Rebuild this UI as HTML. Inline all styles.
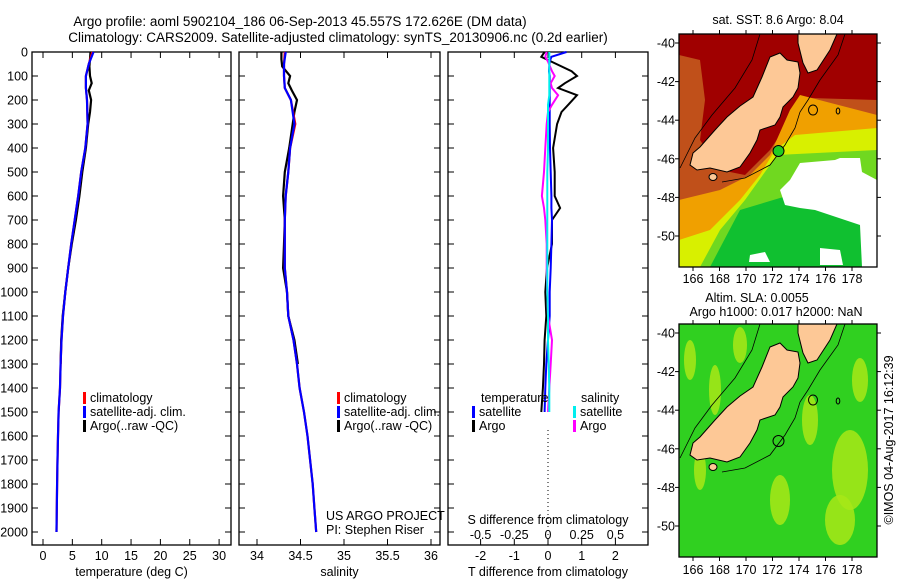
<!DOCTYPE html>
<html><head><meta charset="utf-8"><style>
html,body{margin:0;padding:0;background:#fff;}
svg{display:block;font-family:"Liberation Sans",sans-serif;}
text{font-size:12.5px;fill:#000;}
</style></head><body>
<svg id="fig" width="900" height="580" viewBox="0 0 900 580" xmlns="http://www.w3.org/2000/svg">
<text x="300" y="26" text-anchor="middle" style="font-size:13.5px">Argo profile: aoml 5902104_186 06-Sep-2013 45.557S 172.626E (DM data)</text>
<text x="338" y="42" text-anchor="middle" style="font-size:13.5px">Climatology: CARS2009. Satellite-adjusted climatology: synTS_20130906.nc (0.2d earlier)</text>
<g id="p1"></g>
<g id="p2"></g>
<g id="p3"></g>
<g id="m1"></g>
<g id="m2"></g>
<text transform="translate(893,440) rotate(-90)" text-anchor="middle">©IMOS 04-Aug-2017 16:12:39</text>
</svg>
<script>
// ---- data ----
const depths = [0,50,100,150,200,300,400,500,600,700,800,900,1000,1100,1200,1300,1400,1500,1600,1700,1800,1900,2000];
const tempClim = [8.4,7.8,7.3,7.3,7.5,7.6,7.2,6.5,6.0,5.4,4.8,4.3,3.8,3.4,3.15,3.0,2.9,2.65,2.55,2.47,2.4,2.35,2.3];
const tempSat  = [8.6,7.8,7.3,7.3,7.5,7.6,7.2,6.5,6.0,5.4,4.8,4.3,3.8,3.4,3.15,3.0,2.9,2.65,2.55,2.47,2.4,2.35,2.3];
const argoDepths = [0,30,60,100,130,160,200,250,300,400,500,600,700,800,900,1000,1100,1200,1300];
const tempArgo = [8.1,8.0,7.9,8.0,8.3,7.8,8.2,8.0,7.7,7.3,6.7,6.2,5.6,4.9,4.3,3.8,3.35,3.1,3.0];
const salClim = [34.32,34.31,34.31,34.32,34.39,34.44,34.38,34.36,34.33,34.32,34.32,34.32,34.345,34.36,34.42,34.46,34.49,34.54,34.58,34.61,34.64,34.66,34.68];
const salSat  = [34.33,34.31,34.31,34.32,34.39,34.43,34.38,34.36,34.33,34.32,34.32,34.32,34.345,34.36,34.42,34.46,34.49,34.54,34.58,34.61,34.64,34.66,34.68];
const salArgo = [34.28,34.28,34.29,34.38,34.36,34.40,34.46,34.43,34.41,34.37,34.32,34.30,34.32,34.31,34.30,34.345,34.36,34.43,34.47];
const dtDepths = [0,20,40,80,100,130,150,180,220,250,300,400,500,600,650,700,800,900,1000,1100,1200,1300,1400,1500];
const dtArgo = [-0.1,-0.2,0.1,0.7,0.86,0.5,0.3,0.86,0.6,0.4,0.27,0.15,0.2,0.2,0.36,0.12,0.12,-0.03,-0.08,-0.05,-0.1,-0.12,-0.15,-0.2];
const dtSat  = [0.55,0.1,0.05,0.03,0.05,0.05,0.05,0.05,0.05,0.05,0.05,0.06,0.08,0.1,0.1,0.12,0.1,0.08,0.05,0.05,0.0,-0.05,-0.08,-0.1];
const dsArgo = [-0.01,-0.02,0.0,0.03,0.05,0.02,0.03,0.075,0.03,0.0,-0.01,-0.02,-0.03,-0.045,-0.03,-0.02,-0.01,-0.01,-0.005,0.0,0.03,0.02,0.01,0.0];
const dsSat  = [0.01,0.01,0.01,0.01,0.01,0.01,0.01,0.01,0.0,0.0,0.0,0.0,-0.005,-0.005,-0.005,-0.005,-0.005,-0.005,-0.005,0.0,0.0,0.005,0.01,0.01];
const depthTicks = [0,100,200,300,400,500,600,700,800,900,1000,1100,1200,1300,1400,1500,1600,1700,1800,1900,2000];
const tempTicks = [0,5,10,15,20,25,30];
const salTicks = [34,34.5,35,35.5,36];
const dtTicks = [-2,-1,0,1,2];
const dsTicks = [-0.5,-0.25,0,0.25,0.5];
const dsTickLabels = ["-0.5","-0.25","0","0.25","0.5"];
const lonTicks = [166,168,170,172,174,176,178];
const latTicks = [-40,-42,-44,-46,-48,-50];

const NS="http://www.w3.org/2000/svg";
function mk(parent,tag,attrs,txt){const e=document.createElementNS(NS,tag);for(const k in attrs)e.setAttribute(k,attrs[k]);if(txt!==undefined)e.textContent=txt;parent.appendChild(e);return e;}
const top0=52, bot=545;
const yD = d => 52 + d*0.24;

function stepPath(xs,ds,xf){
  let s='';
  for(let i=0;i<xs.length;i++){const x=xf(xs[i]),y=yD(ds[i]);s+=(i?'L':'M')+x.toFixed(1)+' '+y.toFixed(1);}
  return s;
}
function panel(g,x0,x1,xf,ticks,labels,label,showDepth){
  const r=mk(g,'rect',{x:x0,y:top0,width:x1-x0,height:bot-top0,fill:'#fff',stroke:'#000','stroke-width':1.3});
  
  
  depthTicks.forEach(d=>{
    const y=yD(d);
    const t1=mk(g,'line',{x1:x0,x2:x0+6,y1:y,y2:y,stroke:'#000'});
    
    
    mk(g,'line',{x1:x1-6,x2:x1,y1:y,y2:y,stroke:'#000'});
    if(showDepth){const t=mk(g,'text',{x:x0-4,y:y+4.5,'text-anchor':'end'},String(d));
      
      }
  });
  if(ticks){ticks.forEach((v,i)=>{const x=xf(v);
    mk(g,'line',{x1:x,x2:x,y1:top0,y2:top0+6,stroke:'#000'});
    mk(g,'line',{x1:x,x2:x,y1:bot-6,y2:bot,stroke:'#000'});
    const t=mk(g,'text',{x:x,y:bot+15,'text-anchor':'middle'},labels?labels[i]:String(v));
    
    });}
  if(label){const t=mk(g,'text',{x:(x0+x1)/2,y:bot+31,'text-anchor':'middle'},label);
    
    }
}
function line(g,d,col,w,name){const p=mk(g,'path',{d:d,fill:'none',stroke:col,'stroke-width':w});
  
  return p;}
function legend(g,x,y,items){items.forEach((it,i)=>{
  const m=mk(g,'rect',{x:x,y:y+i*14-10,width:3,height:12,fill:it[1]});
  
  
  const t=mk(g,'text',{x:x+7,y:y+i*14},it[0]);
  
  });}

// Panel 1 temperature
const p1=document.getElementById('p1');
const xT=v=>43+v*5.87;
panel(p1,32,231,xT,tempTicks,null,'temperature (deg C)',true);
line(p1,stepPath(tempArgo,argoDepths,xT),'#000',2.2,'argo-temperature-line');
line(p1,stepPath(tempClim,depths,xT),'#f00',2.2,'climatology-temperature-line');
line(p1,stepPath(tempSat,depths,xT),'#00f',2.2,'satellite-temperature-line');
legend(p1,83,402,[['climatology','#f00'],['satellite-adj. clim.','#00f'],['Argo(..raw -QC)','#000']]);

// Panel 2 salinity
const p2=document.getElementById('p2');
const xS=v=>257+(v-34)*87;
panel(p2,239,440,xS,salTicks,null,'salinity',false);
line(p2,stepPath(salArgo,argoDepths,xS),'#000',2.2,'argo-salinity-line');
line(p2,stepPath(salClim,depths,xS),'#f00',2.2,'climatology-salinity-line');
line(p2,stepPath(salSat,depths,xS),'#00f',2.2,'satellite-salinity-line');
legend(p2,337,402,[['climatology','#f00'],['satellite-adj. clim.','#00f'],['Argo(..raw -QC)','#000']]);
const c1=mk(p2,'text',{x:326,y:520},'US ARGO PROJECT');


const c2=mk(p2,'text',{x:326,y:534},'PI: Stephen Riser');



// Panel 3 differences
const p3=document.getElementById('p3');
const xDT=v=>548+v*33.7;
const xDS=v=>548+v*134.8;
panel(p3,448,648,xDT,dtTicks,null,'T difference from climatology',false);
dsTicks.forEach((v,i)=>{const t=mk(p3,'text',{x:xDS(v),y:539,'text-anchor':'middle'},dsTickLabels[i]);
  
  });
const st=mk(p3,'text',{x:548,y:524,'text-anchor':'middle'},'S difference from climatology');


const zl=mk(p3,'line',{x1:548,x2:548,y1:430,y2:545,stroke:'#000','stroke-dasharray':'1 3'});


line(p3,stepPath(dtArgo,dtDepths,xDT),'#000',2,'argo-t-diff-line');
line(p3,stepPath(dtSat,dtDepths,xDT),'#00f',2,'satellite-t-diff-line');
line(p3,stepPath(dsArgo,dtDepths,xDS),'#f0f',2,'argo-s-diff-line');
line(p3,stepPath(dsSat,dtDepths,xDS),'#0ee',2,'satellite-s-diff-line');
const lt=mk(p3,'text',{x:481,y:402},'temperature');


const ls=mk(p3,'text',{x:581,y:402},'salinity');


legend(p3,472,416,[['satellite','#00f'],['Argo','#000']]);
legend(p3,573,416,[['satellite','#0ee'],['Argo','#f0f']]);

// Maps
function shape(g,tag,attrs,name){const e=mk(g,tag,attrs);
  
  return e;}
function land(g,dy){
  const si="770,57 780,53 787,60 798,62 800,73 798,88 793,97 783,107 780,117 775,125 760,130 757,140 750,153 740,167 727,172 710,168 697,170 690,165 693,153 700,147 715,130 727,117 740,106 753,97 762,77";
  const ni="798,34 837,34 830,50 817,70 808,73 803,63 798,43";
  const tr=`translate(0,${dy})`;
  shape(g,'polyline',{points:"760,34 752,60 735,88 712,115 695,138 684,160 680,168",fill:'none',stroke:'#000','stroke-width':0.8,transform:tr},'contour-west');
  shape(g,'polyline',{points:"845,34 838,55 820,80 808,100 800,112 795,128 785,145 770,165 745,178 722,182",fill:'none',stroke:'#000','stroke-width':0.8,transform:tr},'contour-east');
  shape(g,'polygon',{points:si,fill:'#fdc896',stroke:'#000','stroke-width':1,transform:tr},'south-island');
  shape(g,'polygon',{points:ni,fill:'#fdc896',stroke:'#000','stroke-width':1,transform:tr},'north-island');
  shape(g,'ellipse',{cx:713,cy:177+dy,rx:4,ry:3.5,fill:'#fdc896',stroke:'#000'},'stewart-island');
  shape(g,'ellipse',{cx:813,cy:110+dy,rx:4.5,ry:5,fill:'none',stroke:'#000'},'seamount-contour');
  shape(g,'ellipse',{cx:838,cy:111+dy,rx:1.8,ry:3,fill:'none',stroke:'#000'},'seamount-contour-small');
  shape(g,'circle',{cx:778.5,cy:151+dy,r:5.5,fill:dy?'none':'#2c2',stroke:'#000'},'argo-float-location');
}
function axes(g,x0,y0,x1,y1,latRef,labY){
  shape(g,'rect',{x:x0,y:y0,width:x1-x0,height:y1-y0,fill:'none',stroke:'#000','stroke-width':1.3},'map-frame');
  lonTicks.forEach(v=>{const x=693+(v-166)*13.25;
    mk(g,'line',{x1:x,x2:x,y1:y0-4,y2:y0,stroke:'#000'});mk(g,'line',{x1:x,x2:x,y1:y1,y2:y1+4,stroke:'#000'});
    const t=mk(g,'text',{x:x,y:labY,'text-anchor':'middle'},String(v));
    
    });
  latTicks.forEach(v=>{const y=latRef+(-40-v)*19.3;
    mk(g,'line',{x1:x0-4,x2:x0,y1:y,y2:y,stroke:'#000'});mk(g,'line',{x1:x1,x2:x1+4,y1:y,y2:y,stroke:'#000'});
    const t=mk(g,'text',{x:x0-4,y:y+4.5,'text-anchor':'end'},String(v));
    
    });
}
// SST map
const m1=document.getElementById('m1');
const t1=mk(m1,'text',{x:778,y:24,'text-anchor':'middle'},'sat. SST: 8.6 Argo: 8.04');


shape(m1,'rect',{x:679,y:34,width:198,height:233,fill:'#a00000'},'sst-background');
shape(m1,'polygon',{points:"679,55 700,60 705,100 700,140 720,170 745,175 770,150 790,120 810,98 877,100 877,267 679,267",fill:'#c0501a'},'warm-band');
shape(m1,'polygon',{points:"790,110 800,95 877,115 877,267 679,267 679,200 720,190 750,175 770,155",fill:'#f0a000'},'orange-band');
shape(m1,'polygon',{points:"775,150 795,135 877,128 877,267 679,267 679,240 710,230 740,200 760,175",fill:'#d8f000'},'yellow-band');
shape(m1,'polygon',{points:"777,155 877,150 877,267 700,267 720,230 745,200",fill:'#70d820'},'green-region');
shape(m1,'polygon',{points:"740,210 790,195 877,200 877,267 710,267",fill:'#10c030'},'deep-green-region');
shape(m1,'polygon',{points:"800,163 835,160 840,158 860,158 862,172 877,180 877,267 862,267 860,225 845,220 830,215 815,210 800,208 785,205 780,190 790,180",fill:'#fff'},'missing-data');
shape(m1,'polygon',{points:"750,255 765,252 770,262 749,262",fill:'#fff'},'missing-data-2');
shape(m1,'polygon',{points:"820,248 840,250 843,265 820,265",fill:'#fff'},'missing-data-3');
land(m1,0);
axes(m1,679,34,877,267,43,283);
// SLA map
const m2=document.getElementById('m2');
const t2=mk(m2,'text',{x:757,y:302,'text-anchor':'middle'},'Altim. SLA: 0.0055');


const t3=mk(m2,'text',{x:776,y:316,'text-anchor':'middle'},'Argo h1000: 0.017 h2000: NaN');


shape(m2,'rect',{x:679,y:324,width:198,height:233,fill:'#30d020'},'sla-background');
[[690,360,6,20],[715,390,6,25],[740,345,7,18],[780,500,10,25],[850,470,18,40],[840,520,15,25],[860,380,8,22],[810,420,8,25],[700,470,6,20]].forEach(e=>{
  const el=mk(m2,'ellipse',{cx:e[0],cy:e[1],rx:e[2],ry:e[3],fill:'#a8e818',opacity:0.85});
  
  });
land(m2,290);
axes(m2,679,324,877,557,333,574);
</script>
</body></html>
